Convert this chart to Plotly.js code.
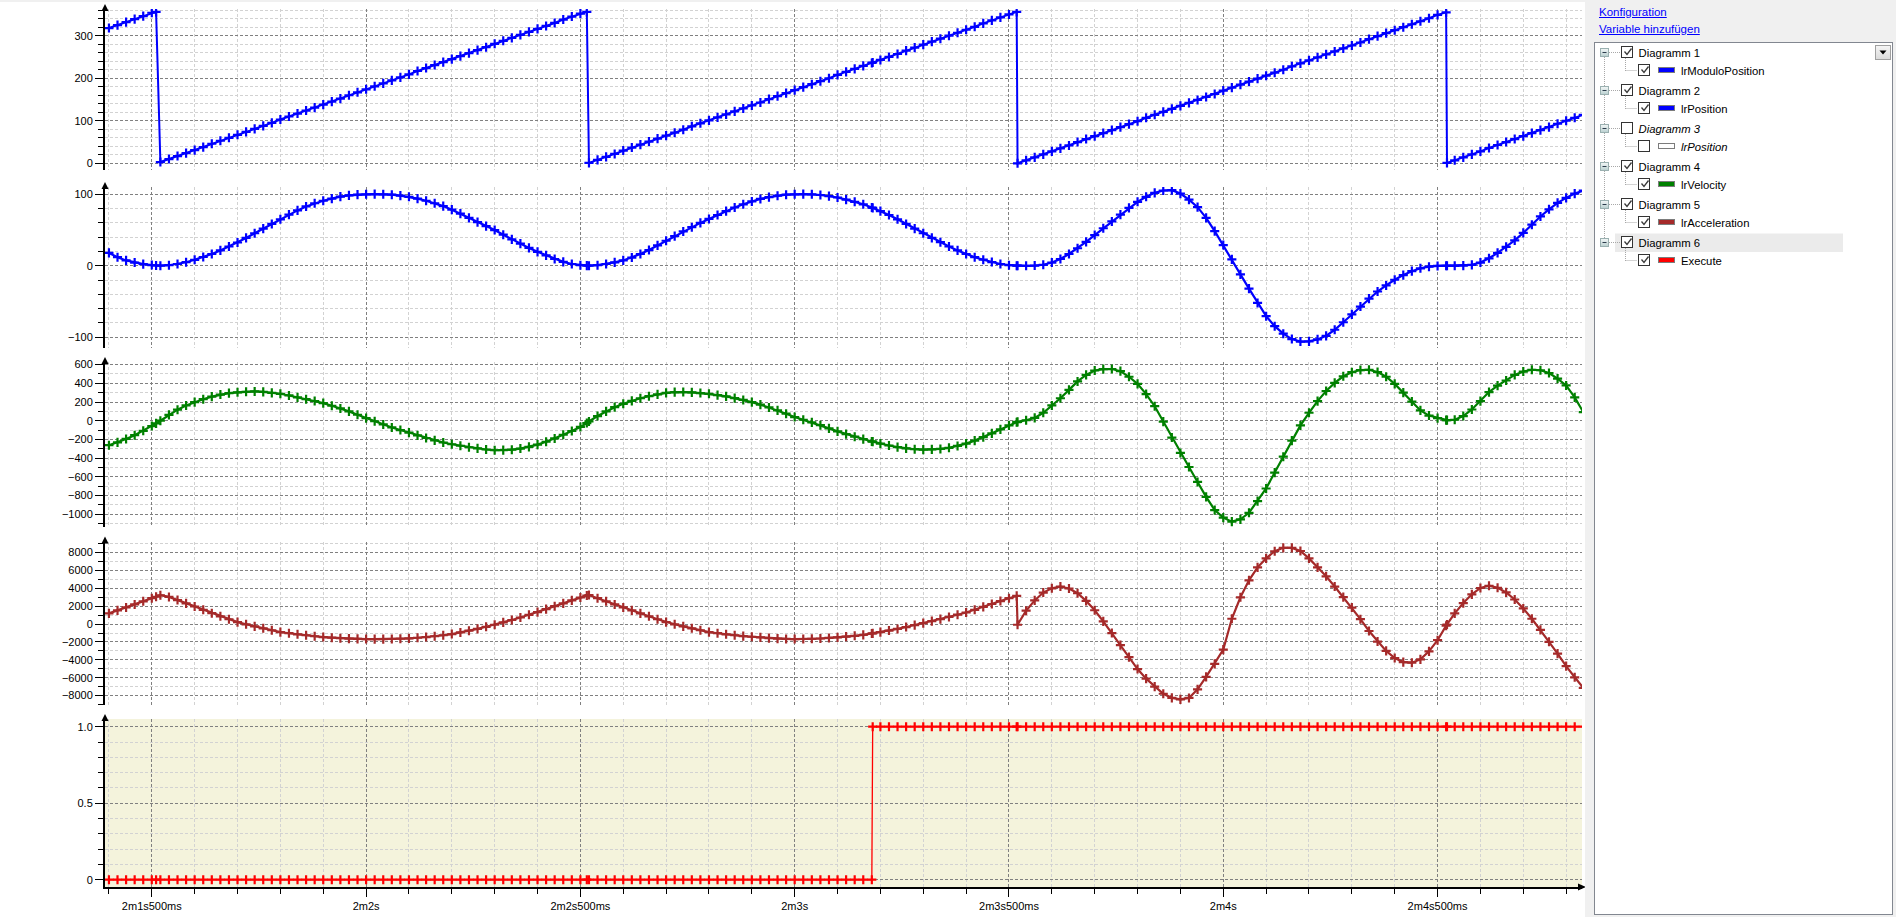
<!DOCTYPE html>
<html><head><meta charset="utf-8">
<script src="https://cdn.plot.ly/plotly-3.0.1.min.js"></script>
<style>
html,body{margin:0;padding:0;background:#fff;overflow:hidden;width:1896px;height:917px;}
#chart{position:absolute;left:0;top:0;width:1896px;height:917px;}
#topstrip{position:absolute;left:0;top:0;width:1585px;height:2px;background:#f0f0f0;}
#panel{position:absolute;left:1585px;top:0;width:311px;height:917px;background:#f0f0f0;font-family:'Liberation Sans',Arial,sans-serif;}
#panel a{position:absolute;left:14px;font-size:11.5px;line-height:14px;color:#0000ff;text-decoration:underline;cursor:pointer;}
#tree{position:absolute;left:9px;top:42px;width:297px;height:871px;background:#fff;border:1px solid #828790;}
</style></head><body>
<div id="chart"></div>
<div id="topstrip"></div>
<div id="panel">
  <a style="top:5px">Konfiguration</a>
  <a style="top:22px">Variable hinzufügen</a>
  <div id="tree"></div>
</div>
<script>
// ---------------- data (seconds since start of record) ----------------
const timeS = [
121.40,121.42,121.44,121.46,121.48,121.50,121.51,121.52,121.54,121.56,121.58,
121.60,121.62,121.64,121.66,121.68,121.70,121.72,121.74,121.76,121.78,
121.80,121.82,121.84,121.86,121.88,121.90,121.92,121.94,121.96,121.98,
122.00,122.02,122.04,122.06,122.08,122.10,122.12,122.14,122.16,122.18,
122.20,122.22,122.24,122.26,122.28,122.30,122.32,122.34,122.36,122.38,
122.40,122.42,122.44,122.46,122.48,122.50,122.515,122.52,122.54,122.56,122.58,
122.60,122.62,122.64,122.66,122.68,122.70,122.72,122.74,122.76,122.78,
122.80,122.82,122.84,122.86,122.88,122.90,122.92,122.94,122.96,122.98,
123.00,123.02,123.04,123.06,123.08,123.10,123.12,123.14,123.16,123.18,
123.182,123.20,123.22,123.24,123.26,123.28,123.30,123.32,123.34,123.36,123.38,
123.40,123.42,123.44,123.46,123.48,123.50,123.518,123.52,123.54,123.56,123.58,
123.60,123.62,123.64,123.66,123.68,123.70,123.72,123.74,123.76,123.78,
123.80,123.82,123.84,123.86,123.88,123.90,123.92,123.94,123.96,123.98,
124.00,124.02,124.04,124.06,124.08,124.10,124.12,124.14,124.16,124.18,
124.20,124.22,124.24,124.26,124.28,124.30,124.32,124.34,124.36,124.38,
124.40,124.42,124.44,124.46,124.48,124.50,124.52,124.522,124.54,124.56,124.58,
124.60,124.62,124.64,124.66,124.68,124.70,124.72,124.74,124.76,124.78,
124.80,124.82,124.84];

const lrModuloPosition = [
318,325,332,339,346,354,356,3,10,17,24,
31,38,46,53,60,67,74,81,88,95,
103,110,117,124,131,138,145,152,160,167,
174,181,188,195,202,209,217,224,231,238,
245,252,259,266,273,281,288,295,302,309,
316,323,330,338,345,352,356,1,8,15,22,
30,37,44,51,58,65,72,79,87,94,
101,108,115,122,129,136,143,151,158,165,
172,179,186,193,200,208,215,222,229,236,
237,243,250,257,265,272,279,286,293,300,307,
314,321,329,336,343,350,356,0,7,14,21,
28,35,42,50,57,64,71,78,85,92,
99,107,114,121,128,135,142,149,156,163,
171,178,185,192,199,206,213,220,228,235,
242,249,256,263,270,277,284,292,299,306,
313,320,327,334,341,349,355,1,7,14,21,
28,36,43,50,57,64,71,78,85,93,
100,107,114];

const lrPosition = [
18,12,7.5,4.5,2.3,1.0,0.4,0.1,0.8,2.5,5,
8.4,12.3,16.5,21.5,27,32.6,39,45.5,52,58.5,
65,71.5,77.5,83,87.5,91,94,96.8,98.5,99.6,
100,100.2,100,99.4,98.2,96.5,94,91,87.5,83.5,
78.5,73,67,61,55.5,50,43.5,37,31,25,
19.5,14.5,9.5,5.5,2.5,0.8,0.2,0.1,0.8,2.5,4.8,
7.5,11.5,16.5,22,28.5,35,41.5,48,54,60,
65.5,71,76.5,81.5,86,90,93.5,96,98,99.4,
100,100.2,100,99,97.5,95.5,92.5,89.5,86,81.5,
81,76.5,71,65,58.5,52,45.5,39,33,27,21.5,
16.5,12,8.5,5.2,2.5,0.8,0.1,0.1,0,0.3,1.4,
4.5,9.5,16.5,24.5,33.5,43,52.5,62,71.5,81,
89.5,96.5,102,105.3,105.8,101,92.5,82,67,48.5,
29,9,-12,-32,-52,-70.5,-84.5,-95,-102.5,-106,
-105.8,-103,-98,-89.5,-79,-68,-57,-46,-36,-27.5,
-19.5,-13,-7.5,-3.5,-1.3,-0.2,0,0,0,0.2,1.3,
4.5,10.5,18,26.5,35.5,46,57.5,69,79,88,
95,101,105];

const lrVelocity = [
-262,-232,-195,-155,-108,-57,-29,0,62,118,163,
199,230,258,280,295,304,310,313,308,298,
288,270,250,230,211,188,160,131,100,64,
28,-6,-40,-72,-100,-128,-157,-185,-210,-233,
-252,-268,-284,-296,-308,-316,-315,-310,-298,-280,
-256,-225,-190,-150,-110,-67,-25,-8,50,100,145,
181,212,240,262,282,298,306,307,303,296,
288,274,260,242,222,199,172,142,110,75,
39,10,-18,-48,-82,-114,-143,-171,-197,-222,
-224,-245,-265,-283,-296,-305,-309,-307,-302,-290,-270,
-245,-213,-176,-135,-93,-50,-16,-12,5,30,85,
163,240,330,420,490,537,552,553,530,470,
394,285,155,-10,-180,-345,-495,-655,-815,-956,
-1037,-1080,-1055,-985,-860,-725,-555,-385,-213,-50,
85,210,318,405,475,519,542,545,520,470,
394,300,205,110,55,28,6,6,10,50,120,
210,306,375,430,490,526,545,540,510,450,
377,250,92];

const lrAcceleration = [
1200,1530,1860,2200,2550,2900,3060,3230,3040,2690,2320,
1970,1600,1220,870,540,223,-20,-250,-470,-690,
-893,-1020,-1140,-1250,-1360,-1450,-1520,-1575,-1620,-1655,
-1674,-1680,-1678,-1665,-1640,-1600,-1530,-1450,-1360,-1250,
-1116,-935,-740,-530,-300,-74,190,460,740,1040,
1340,1670,2000,2320,2650,2976,3200,3250,2900,2550,2200,
1860,1530,1200,870,540,223,-20,-250,-470,-690,
-893,-1020,-1140,-1250,-1340,-1414,-1490,-1570,-1625,-1660,
-1674,-1665,-1645,-1610,-1550,-1488,-1400,-1310,-1200,-1050,
-1035,-893,-720,-540,-330,-110,112,335,560,800,1050,
1300,1600,1930,2250,2580,2900,3160,-74,1500,2650,3530,
4007,4200,3980,3450,2600,1550,300,-1000,-2350,-3700,
-5030,-6100,-7000,-7791,-8250,-8420,-8260,-7300,-5900,-4450,
-2860,600,3000,4900,6350,7350,8150,8533,8530,8180,
7350,6350,5350,4200,3020,1850,550,-770,-1950,-3000,
-3800,-4250,-4320,-3950,-3050,-1800,-180,-50,1200,2350,3330,
4040,4290,4060,3550,2750,1750,600,-650,-1980,-3300,
-4700,-5950,-7140];

const execute = [
0,0,0,0,0,0,0,0,0,0,0,
0,0,0,0,0,0,0,0,0,0,
0,0,0,0,0,0,0,0,0,0,
0,0,0,0,0,0,0,0,0,0,
0,0,0,0,0,0,0,0,0,0,
0,0,0,0,0,0,0,0,0,0,0,
0,0,0,0,0,0,0,0,0,0,
0,0,0,0,0,0,0,0,0,0,
0,0,0,0,0,0,0,0,0,0,
1,1,1,1,1,1,1,1,1,1,1,
1,1,1,1,1,1,1,1,1,1,1,
1,1,1,1,1,1,1,1,1,1,
1,1,1,1,1,1,1,1,1,1,
1,1,1,1,1,1,1,1,1,1,
1,1,1,1,1,1,1,1,1,1,
1,1,1,1,1,1,1,1,1,1,1,
1,1,1,1,1,1,1,1,1,1,
1,1,1];

const xTickVals = [121.5, 122, 122.5, 123, 123.5, 124, 124.5];
const xTickText = ['2m1s500ms','2m2s','2m2s500ms','2m3s','2m3s500ms','2m4s','2m4s500ms'];

const diagramNames  = ['Diagramm 1','Diagramm 2','Diagramm 3','Diagramm 4','Diagramm 5','Diagramm 6'];
const variableNames = ['lrModuloPosition','lrPosition','lrPosition','lrVelocity','lrAcceleration','Execute'];
const variableColors = ['#0000ff','#0000ff','#ffffff','#008000','#a52a2a','#ff0000'];
const diagramEnabled = [true,true,false,true,true,true];

// ---------------- checks ----------------
[lrModuloPosition,lrPosition,lrVelocity,lrAcceleration,execute].forEach((a,i)=>{
  if(a.length!==timeS.length) throw new Error('length mismatch series '+i+': '+a.length+' vs '+timeS.length);
});

// ---------------- layout helpers ----------------
const W = 1896, H = 917;
const fx = p => p / W;
const fy = p => 1 - p / H;
const XL = 105, XR = 1582;
const xRange = [121.3908, 124.837];
const tickFont = {family:'Liberation Sans, Arial, sans-serif', size:11, color:'#000'};
const majorGrid = '#808080', minorGrid = '#d2d2d2', dash = '3px,2px';

const panels = [
  {y: lrModuloPosition, color:'#0000ff', lw:2,   top:9,     bottom:170, range:[-15.75, 362.8], dtick:100,  minor:20},
  {y: lrPosition,       color:'#0000ff', lw:2.2, top:187,   bottom:348, range:[-115, 110.2],   dtick:100,  minor:20},
  {y: lrVelocity,       color:'#008000', lw:2.2, top:362,   bottom:527, range:[-1137, 628],    dtick:200,  minor:100},
  {y: lrAcceleration,   color:'#a52a2a', lw:2.2, top:541.5, bottom:705, range:[-9051, 9241],   dtick:2000, minor:1000},
  {y: execute,          color:'#ff0000', lw:1.3, top:719,   bottom:887, range:[-0.0477, 1.0503], tickvals:[0,0.5,1], ticktext:['0','0.5','1.0'], minor:0.1}
];

const traces = [];
const layout = {
  width: W, height: H,
  margin: {l:0, r:0, t:0, b:0, pad:0},
  paper_bgcolor: 'rgba(0,0,0,0)',
  plot_bgcolor: 'rgba(0,0,0,0)',
  showlegend: false,
  shapes: [],
  hovermode: false
};

panels.forEach((p, i) => {
  const last = i === panels.length - 1;
  const xName = last ? 'x' : 'x' + (i + 2);
  const yName = i === 0 ? 'y' : 'y' + (i + 1);
  const xKey = last ? 'xaxis' : 'xaxis' + (i + 2);
  const yKey = i === 0 ? 'yaxis' : 'yaxis' + (i + 1);

  traces.push({
    type: 'scatter', mode: 'lines+markers',
    x: timeS, y: p.y, xaxis: xName, yaxis: yName,
    line: {color: p.color, width: p.lw},
    marker: {symbol: 'cross-thin', size: 6.5, color: p.color, line: {color: p.color, width: 2.2}},
    hoverinfo: 'skip'
  });

  const xa = {
    domain: [fx(XL), fx(XR)], range: xRange, anchor: yName,
    showgrid: true, gridcolor: majorGrid, griddash: dash, gridwidth: 1,
    zeroline: false, fixedrange: true,
    tickmode: 'array', tickvals: xTickVals, ticktext: xTickText,
    minor: {tickmode: 'linear', tick0: 121.4, dtick: 0.1, showgrid: true, gridcolor: minorGrid, griddash: dash}
  };
  if (last) {
    Object.assign(xa, {showline: true, linecolor: '#000', linewidth: 2, ticks: 'outside', ticklen: 8, tickcolor: '#000', tickwidth: 1, tickfont: tickFont, showticklabels: true});
    xa.minor.ticks = 'outside'; xa.minor.ticklen = 5; xa.minor.tickcolor = '#000';
  } else {
    Object.assign(xa, {showline: false, ticks: '', showticklabels: false});
  }
  layout[xKey] = xa;

  const ya = {
    domain: [fy(p.bottom), fy(p.top)], range: p.range, anchor: xName,
    showline: true, linecolor: '#000', linewidth: 2,
    ticks: 'outside', ticklen: 8, tickcolor: '#000', tickwidth: 1,
    showgrid: true, gridcolor: majorGrid, griddash: dash, gridwidth: 1,
    zeroline: false, fixedrange: true, tickfont: tickFont,
    minor: {tick0: 0, dtick: p.minor, ticks: 'outside', ticklen: 5, tickcolor: '#000', showgrid: true, gridcolor: minorGrid, griddash: dash}
  };
  if (p.tickvals) { ya.tickmode = 'array'; ya.tickvals = p.tickvals; ya.ticktext = p.ticktext; ya.minor.tickmode = 'linear'; }
  else { ya.tickmode = 'linear'; ya.tick0 = 0; ya.dtick = p.dtick; }
  layout[yKey] = ya;

  // arrow at top of each y axis
  layout.shapes.push({
    type: 'path', xref: 'paper', yref: 'paper', layer: 'above',
    path: `M ${fx(XL-3.5)},${fy(p.top+2)} L ${fx(XL+3.5)},${fy(p.top+2)} L ${fx(XL)},${fy(p.top-5)} Z`,
    fillcolor: '#000', line: {width: 0}
  });
});

// beige background of the Execute diagram
layout.shapes.push({type:'rect', xref:'x domain', yref:'y5 domain', x0:0, x1:1, y0:0, y1:1,
  fillcolor:'#f4f3dc', line:{width:0}, layer:'below'});
// arrow at right end of time axis
layout.shapes.push({type:'path', xref:'paper', yref:'paper', layer:'above',
  path:`M ${fx(XR-4)},${fy(883.5)} L ${fx(XR-4)},${fy(890.5)} L ${fx(XR+4)},${fy(887)} Z`,
  fillcolor:'#000', line:{width:0}});

Plotly.newPlot('chart', traces, layout, {displayModeBar:false, staticPlot:true});

// ---------------- tree panel ----------------
(function buildTree(){
  const font = "font-family:'Liberation Sans',Arial,sans-serif;font-size:11.3px";
  let s = `<svg width="297" height="871" xmlns="http://www.w3.org/2000/svg">
  <defs><linearGradient id="eg" x1="0" y1="0" x2="0" y2="1"><stop offset="0" stop-color="#f4f8f8"/><stop offset="1" stop-color="#b9cfcf"/></linearGradient>
  <linearGradient id="bg" x1="0" y1="0" x2="0" y2="1"><stop offset="0" stop-color="#f6f6f6"/><stop offset="1" stop-color="#dadada"/></linearGradient></defs>`;
  const P = i => 10 + 38 * i;
  s += `<rect x="20" y="190.5" width="228" height="18.5" fill="#ebebeb"/>`;
  s += `<line x1="9.5" y1="${P(0)}" x2="9.5" y2="${P(5)}" stroke="#a8a8a8" stroke-dasharray="1,1"/>`;
  const check = (x, y) => `<polyline points="${x+3},${y-0.5} ${x+5.5},${y+2.5} ${x+10},${y-3.5}" fill="none" stroke="#3a3a3a" stroke-width="1.3"/>`;
  diagramNames.forEach((name, i) => {
    const p = P(i), c = p + 18;
    const on = diagramEnabled[i];
    const it = on ? '' : 'font-style:italic;';
    s += `<rect x="5.5" y="${p-4.5}" width="8" height="8" fill="url(#eg)" stroke="#9ab0b0"/>`;
    s += `<line x1="7.5" y1="${p-0.5}" x2="11.5" y2="${p-0.5}" stroke="#2c3c4c" stroke-width="1"/>`;
    s += `<line x1="14" y1="${p-0.5}" x2="25" y2="${p-0.5}" stroke="#a8a8a8" stroke-dasharray="1,1"/>`;
    s += `<rect x="26.5" y="${p-6.5}" width="11" height="11" fill="#fff" stroke="#333"/>`;
    if (on) s += check(26.5, p - 1);
    s += `<text x="43.5" y="${p+3.5}" style="${font};${it}" fill="#000">${name}</text>`;
    s += `<line x1="30.5" y1="${p+5}" x2="30.5" y2="${c}" stroke="#a8a8a8" stroke-dasharray="1,1"/>`;
    s += `<line x1="30.5" y1="${c-0.5}" x2="42" y2="${c-0.5}" stroke="#a8a8a8" stroke-dasharray="1,1"/>`;
    s += `<rect x="43.5" y="${c-6.5}" width="11" height="11" fill="#fff" stroke="#333"/>`;
    if (on) s += check(43.5, c - 1);
    s += `<rect x="63.5" y="${c-3.5}" width="16" height="5" fill="${variableColors[i]}" stroke="#7c7c7c"/>`;
    s += `<text x="86" y="${c+3.5}" style="${font};${it}" fill="#000">${variableNames[i]}</text>`;
  });
  s += `<rect x="280.5" y="2.5" width="15" height="14" fill="url(#bg)" stroke="#a0a0a0"/>`;
  s += `<polygon points="284.5,7.5 291.5,7.5 288,11.5" fill="#000"/>`;
  s += `</svg>`;
  document.getElementById('tree').innerHTML = s;
})();
</script>
</body></html>
